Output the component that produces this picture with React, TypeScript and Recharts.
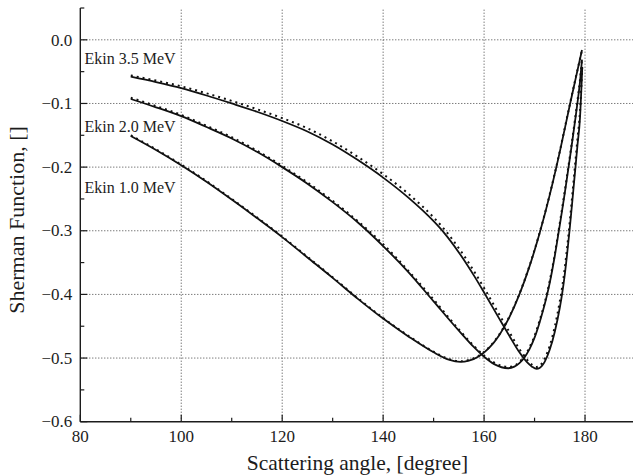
import React from 'react';
import { LineChart, Line, XAxis, YAxis, ReferenceLine } from 'recharts';

const FONT = 'Liberation Serif, Tinos, DejaVu Serif, serif';
const INK = '#1c1c1c';

// axis ticks: labelled majors, unlabelled minors in between
const xTicks = [80, 90, 100, 110, 120, 130, 140, 150, 160, 170, 180, 190];
const yTicks = [-0.6, -0.55, -0.5, -0.45, -0.4, -0.35, -0.3, -0.25, -0.2, -0.15, -0.1, -0.05, 0, 0.05];
const xGrid = [100, 120, 140, 160, 180];
const yGrid = [0, -0.1, -0.2, -0.3, -0.4, -0.5];

// Ekin 1.0 MeV
const angle10 = [90, 95, 100, 105, 110, 115, 120, 125, 130, 135, 140, 145, 150, 153, 155.3, 157, 159, 161, 163, 165, 167, 169, 171, 173, 175, 177, 178, 179.4];
const calc10 = [-0.151, -0.173, -0.197, -0.223, -0.251, -0.28, -0.31, -0.342, -0.374, -0.407, -0.438, -0.466, -0.491, -0.5025, -0.506, -0.504, -0.497, -0.484, -0.464, -0.436, -0.4, -0.356, -0.304, -0.244, -0.176, -0.102, -0.066, -0.016];
const fit10 = [-0.15, -0.172, -0.196, -0.222, -0.25, -0.279, -0.309, -0.341, -0.373, -0.406, -0.437, -0.465, -0.49, -0.5015, -0.505, -0.503, -0.496, -0.483, -0.463, -0.435, -0.399, -0.355, -0.303, -0.243, -0.175, -0.101, -0.065, -0.016];

// Ekin 2.0 MeV
const angle20 = [90, 95, 100, 105, 110, 115, 120, 125, 130, 135, 140, 145, 150, 155, 158, 160, 162, 164.8, 166, 167, 168, 169, 170, 171, 172, 172.5, 173, 173.5, 174, 174.5, 175, 175.5, 176, 176.5, 177, 177.5, 178, 178.5, 179, 179.4];
const calc20 = [-0.093, -0.106, -0.12, -0.137, -0.155, -0.176, -0.2, -0.226, -0.255, -0.287, -0.324, -0.365, -0.411, -0.457, -0.483, -0.498, -0.5095, -0.516, -0.5135, -0.508, -0.499, -0.486, -0.468, -0.444, -0.416, -0.4, -0.382, -0.362, -0.34, -0.316, -0.291, -0.266, -0.24, -0.213, -0.186, -0.158, -0.129, -0.099, -0.066, -0.031];
const fit20 = [-0.091, -0.104, -0.118, -0.135, -0.153, -0.174, -0.198, -0.224, -0.253, -0.285, -0.321, -0.363, -0.408, -0.455, -0.481, -0.496, -0.507, -0.514, -0.512, -0.506, -0.497, -0.483, -0.465, -0.441, -0.413, -0.397, -0.379, -0.359, -0.337, -0.313, -0.288, -0.263, -0.237, -0.21, -0.183, -0.155, -0.126, -0.096, -0.063, -0.029];

// Ekin 3.5 MeV
const angle35 = [90, 95, 100, 105, 110, 115, 120, 125, 130, 135, 140, 145, 150, 152, 155, 158, 160, 163, 165, 167, 168.5, 169.5, 170.4, 171, 171.5, 172, 173, 174, 175, 175.5, 176, 176.5, 177, 177.5, 178, 178.5, 179, 179.45];
const calc35 = [-0.058, -0.0665, -0.076, -0.0875, -0.1, -0.113, -0.1275, -0.144, -0.1645, -0.189, -0.2165, -0.248, -0.285, -0.3025, -0.334, -0.3705, -0.397, -0.438, -0.465, -0.491, -0.5065, -0.5135, -0.517, -0.5155, -0.512, -0.506, -0.487, -0.459, -0.421, -0.397, -0.368, -0.333, -0.294, -0.252, -0.209, -0.166, -0.123, -0.044];
const fit35 = [-0.056, -0.064, -0.073, -0.084, -0.096, -0.109, -0.123, -0.139, -0.1595, -0.184, -0.211, -0.242, -0.279, -0.2965, -0.3275, -0.3635, -0.39, -0.4315, -0.459, -0.486, -0.5025, -0.5105, -0.514, -0.5125, -0.508, -0.501, -0.481, -0.451, -0.411, -0.387, -0.358, -0.323, -0.284, -0.242, -0.199, -0.156, -0.113, -0.04];

const zip = (xs: number[], ys: number[]) => xs.map((x, i) => ({ x, y: ys[i] }));

const series = [
  { key: 'c10', data: zip(angle10, calc10), dotted: false },
  { key: 'f10', data: zip(angle10, fit10), dotted: true },
  { key: 'c20', data: zip(angle20, calc20), dotted: false },
  { key: 'f20', data: zip(angle20, fit20), dotted: true },
  { key: 'c35', data: zip(angle35, calc35), dotted: false },
  { key: 'f35', data: zip(angle35, fit35), dotted: true },
];

const isMajorX = (v: number) => v % 20 === 0;
const isMajorY = (v: number) => Math.round(v * 100) % 10 === 0;
const fmtY = (v: number) => (Math.abs(v) < 1e-9 ? '0.0' : (v < 0 ? '\u2212' : '') + Math.abs(v).toFixed(1));

const txt = { fontFamily: FONT };

function BottomTick({ x, y, payload }: any) {
  const v = payload.value;
  const major = isMajorX(v);
  return (
    <g>
      <line x1={x} x2={x} y1={y} y2={y - (major ? 7 : 4)} stroke={INK} strokeWidth={1.2} />
      {major && v <= 180 && (
        <text x={x} y={y + 20.5} textAnchor="middle" fontSize={17} style={txt} fill={INK}>
          {v}
        </text>
      )}
    </g>
  );
}

function TopTick({ x, y, payload }: any) {
  const major = isMajorX(payload.value);
  return <line x1={x} x2={x} y1={y} y2={y + (major ? 7 : 4)} stroke={INK} strokeWidth={1.2} />;
}

function LeftTick({ x, y, payload }: any) {
  const v = payload.value;
  const major = isMajorY(v);
  return (
    <g>
      <line x1={x} x2={x + (major ? 7 : 4)} y1={y} y2={y} stroke={INK} strokeWidth={1.2} />
      {major && v < 0.04 && (
        <text x={x - 8} y={y + 5.7} textAnchor="end" fontSize={17} style={txt} fill={INK}>
          {fmtY(v)}
        </text>
      )}
    </g>
  );
}

function RightTick({ x, y, payload }: any) {
  const major = isMajorY(payload.value);
  return <line x1={x} x2={x - (major ? 7 : 4)} y1={y} y2={y} stroke={INK} strokeWidth={1.2} />;
}

const axisLine = { stroke: INK, strokeWidth: 1.4 };

export default function App() {
  return (
    <div style={{ position: 'absolute', left: 0, top: 0, width: 633, height: 476, overflow: 'hidden', background: '#fff', fontFamily: FONT }}>
      <LineChart width={640} height={476} margin={{ top: 8, right: 4.5, left: 0, bottom: 0 }}>
        <XAxis xAxisId="b" type="number" dataKey="x" domain={[80, 190]} ticks={xTicks} interval={0}
          allowDataOverflow height={54.3} tickSize={0} tickMargin={0} tickLine={false} axisLine={axisLine} tick={<BottomTick />} />
        <XAxis xAxisId="t" orientation="top" type="number" domain={[80, 190]} ticks={xTicks} interval={0}
          allowDataOverflow height={0} tickSize={0} tickMargin={0} tickLine={false} axisLine={axisLine} tick={<TopTick />} />
        <YAxis yAxisId="l" type="number" domain={[-0.6, 0.05]} ticks={yTicks} interval={0}
          allowDataOverflow width={80.3} tickSize={0} tickMargin={0} tickLine={false} axisLine={axisLine} tick={<LeftTick />} />
        <YAxis yAxisId="r" orientation="right" type="number" domain={[-0.6, 0.05]} ticks={yTicks} interval={0}
          allowDataOverflow width={0} tickSize={0} tickMargin={0} tickLine={false} axisLine={axisLine} tick={<RightTick />} />
        {xGrid.map((v) => (
          <ReferenceLine key={'gx' + v} xAxisId="b" yAxisId="l" x={v} stroke="#444" strokeWidth={1} strokeDasharray="1 2" />
        ))}
        {yGrid.map((v) => (
          <ReferenceLine key={'gy' + v} xAxisId="b" yAxisId="l" y={v} stroke="#444" strokeWidth={1} strokeDasharray="1 2" />
        ))}
        {series.map((s) => (
          <Line key={s.key} xAxisId="b" yAxisId="l" data={s.data} dataKey="y" type="monotone"
            stroke="#111" strokeWidth={s.dotted ? 2 : 1.8} strokeDasharray={s.dotted ? '2 4' : undefined}
            dot={false} activeDot={false} isAnimationActive={false} />
        ))}
      </LineChart>
      <svg width={633} height={476} style={{ position: 'absolute', left: 0, top: 0, pointerEvents: 'none' }}>
        <g style={txt} fill={INK}>
          <text x={84.5} y={64} fontSize={16}>Ekin 3.5 MeV</text>
          <text x={84.5} y={131.7} fontSize={16}>Ekin 2.0 MeV</text>
          <text x={84.5} y={193.3} fontSize={16}>Ekin 1.0 MeV</text>
          <text x={357.5} y={470} fontSize={21.5} textAnchor="middle">Scattering angle, [degree]</text>
          <text x={24} y={220} fontSize={22} textAnchor="middle" transform="rotate(-90 24 220)">Sherman Function, []</text>
        </g>
      </svg>
    </div>
  );
}
